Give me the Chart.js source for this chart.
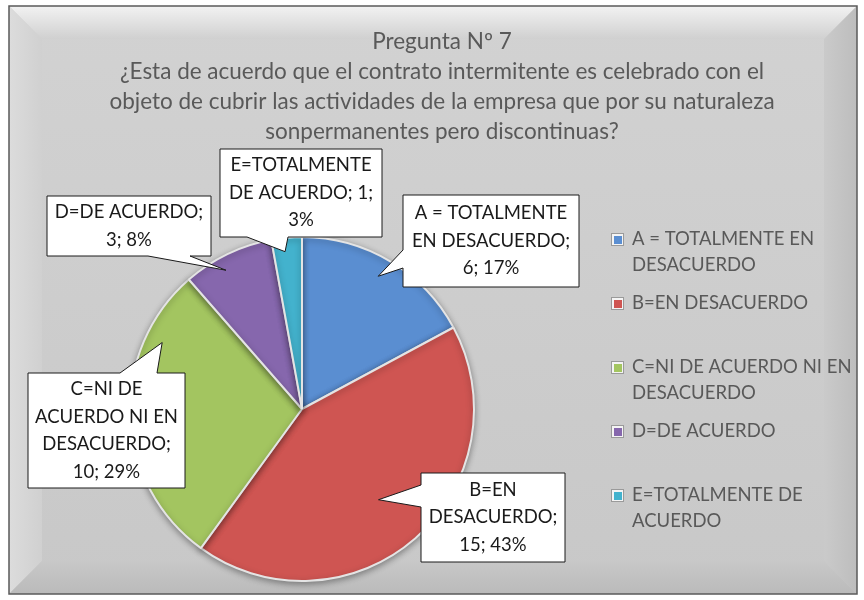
<!DOCTYPE html>
<html lang="es">
<head>
  <meta charset="UTF-8">
  <title>Pregunta Nº 7</title>
  <script src="https://cdn.jsdelivr.net/npm/chart.js"></script>
  <style>
    body { margin: 0; background: #ffffff; }
    #wrap { width: 864px; height: 600px; }
  </style>
</head>
<body>
  <div id="wrap">
    <canvas id="pieChart" width="864" height="600"></canvas>
  </div>

  <script>
    // data
    const categories = [
      'A = TOTALMENTE EN DESACUERDO',
      'B=EN DESACUERDO',
      'C=NI DE ACUERDO NI EN DESACUERDO',
      'D=DE ACUERDO',
      'E=TOTALMENTE DE ACUERDO'
    ];
    const counts = [6, 15, 10, 3, 1];
    const sliceColors = ['#5a8ed1', '#cf5552', '#a3c560', '#8667ad', '#43b2cd'];
    const titleLines = [
      'Pregunta Nº 7',
      '¿Esta de acuerdo que el contrato intermitente es celebrado con el',
      'objeto de cubrir las actividades de la empresa que por su naturaleza',
      'sonpermanentes pero discontinuas?'
    ];

    const FONT = 'Lato, "Open Sans", "Liberation Sans", sans-serif';

    // callout boxes: box rect, wrap width, pointer base on an edge, tip (angle offset deg, radius fraction)
    const callouts = [
      { box: [403, 195, 176, 92], wrap: 168, edge: 'left', base: [250, 268], off: -1, f: 0.89 },
      { box: [421, 473, 144, 89], wrap: 136, edge: 'left', base: [485, 507], off: 1, f: 0.69 },
      { box: [28, 373, 157, 115], wrap: 147, edge: 'top', base: [120, 157], off: 28, f: 0.9 },
      { box: [47, 196, 164, 60], wrap: 158, edge: 'bottom', base: [148, 190], off: -3, f: 0.92 },
      { box: [220, 149, 162, 88], wrap: 158, edge: 'bottom', base: [247, 288], off: -1, f: 0.92 }
    ];

    // whole-number percentages that add up to 100 (largest remainder)
    function percentages(vals) {
      const total = vals.reduce((a, b) => a + b, 0);
      const raw = vals.map(v => v / total * 100);
      const out = raw.map(Math.floor);
      const left = 100 - out.reduce((a, b) => a + b, 0);
      const order = raw
        .map((r, i) => [Number((r - Math.floor(r)).toFixed(6)), i])
        .sort((p, q) => q[0] - p[0] || p[1] - q[1]);
      for (let k = 0; k < left; k++) out[order[k][1]] += 1;
      return out;
    }

    function wrapText(ctx, text, maxW) {
      const words = text.split(' ');
      const lines = [];
      let cur = '';
      words.forEach(w => {
        const test = cur ? cur + ' ' + w : w;
        if (cur && ctx.measureText(test).width > maxW) {
          lines.push(cur);
          cur = w;
        } else {
          cur = test;
        }
      });
      if (cur) lines.push(cur);
      return lines;
    }

    // gray bevelled frame behind everything
    const framePlugin = {
      id: 'frame',
      beforeDraw(chart) {
        const ctx = chart.ctx;
        const x0 = 9, y0 = 6, x1 = 857, y1 = 594, b = 33;
        ctx.save();
        ctx.fillStyle = '#ffffff';
        ctx.fillRect(0, 0, chart.width, chart.height);

        let g = ctx.createLinearGradient(0, y0, 0, y1);
        g.addColorStop(0, '#d2d2d2');
        g.addColorStop(1, '#c8c8c8');
        ctx.fillStyle = g;
        ctx.fillRect(x0, y0, x1 - x0, y1 - y0);

        // top bevel
        g = ctx.createLinearGradient(0, y0, 0, y0 + b);
        g.addColorStop(0, '#f2f2f2');
        g.addColorStop(1, '#d0d0d0');
        ctx.fillStyle = g;
        ctx.beginPath();
        ctx.moveTo(x0, y0); ctx.lineTo(x1, y0); ctx.lineTo(x1 - b, y0 + b); ctx.lineTo(x0 + b, y0 + b);
        ctx.closePath(); ctx.fill();

        // left bevel
        g = ctx.createLinearGradient(x0, 0, x0 + b, 0);
        g.addColorStop(0, '#dcdcdc');
        g.addColorStop(1, '#d0d0d0');
        ctx.fillStyle = g;
        ctx.beginPath();
        ctx.moveTo(x0, y0); ctx.lineTo(x0 + b, y0 + b); ctx.lineTo(x0 + b, y1 - b); ctx.lineTo(x0, y1);
        ctx.closePath(); ctx.fill();

        // right bevel
        g = ctx.createLinearGradient(x1 - b, 0, x1, 0);
        g.addColorStop(0, '#cacaca');
        g.addColorStop(1, '#bdbdbd');
        ctx.fillStyle = g;
        ctx.beginPath();
        ctx.moveTo(x1, y0); ctx.lineTo(x1, y1); ctx.lineTo(x1 - b, y1 - b); ctx.lineTo(x1 - b, y0 + b);
        ctx.closePath(); ctx.fill();

        // bottom bevel
        g = ctx.createLinearGradient(0, y1 - b, 0, y1);
        g.addColorStop(0, '#c8c8c8');
        g.addColorStop(1, '#bababa');
        ctx.fillStyle = g;
        ctx.beginPath();
        ctx.moveTo(x0, y1); ctx.lineTo(x1, y1); ctx.lineTo(x1 - b, y1 - b); ctx.lineTo(x0 + b, y1 - b);
        ctx.closePath(); ctx.fill();

        ctx.strokeStyle = '#5a5a5a';
        ctx.lineWidth = 1.5;
        ctx.strokeRect(x0, y0, x1 - x0, y1 - y0);
        ctx.restore();
      },
      beforeDatasetsDraw(chart) {
        const ctx = chart.ctx;
        ctx.save();
        ctx.shadowColor = 'rgba(0,0,0,0.35)';
        ctx.shadowBlur = 6;
        ctx.shadowOffsetY = 2;
      },
      afterDatasetsDraw(chart) {
        chart.ctx.restore();
      }
    };

    // title, legend and callout labels
    const textPlugin = {
      id: 'texts',
      afterDraw(chart) {
        const ctx = chart.ctx;
        ctx.save();

        // title
        ctx.fillStyle = '#595959';
        ctx.font = '22.5px ' + FONT;
        ctx.textAlign = 'center';
        ctx.textBaseline = 'middle';
        titleLines.forEach((t, i) => ctx.fillText(t, 442, 42 + i * 30));

        // legend
        ctx.font = '18.5px ' + FONT;
        ctx.textAlign = 'left';
        chart.data.labels.forEach((lab, i) => {
          const y = 239 + i * 64;
          ctx.fillStyle = '#9a9a9a';
          ctx.fillRect(611, y - 6, 13, 13);
          ctx.fillStyle = '#f4f4f4';
          ctx.fillRect(612, y - 5, 11, 11);
          ctx.fillStyle = sliceColors[i];
          ctx.fillRect(614, y - 3, 8, 8);
          ctx.fillStyle = '#595959';
          wrapText(ctx, lab, 226).forEach((ln, j) => ctx.fillText(ln, 632, y + j * 26));
        });

        // callouts
        const meta = chart.getDatasetMeta(0);
        const pcts = percentages(counts);
        ctx.font = '18.5px ' + FONT;
        callouts.forEach((c, i) => {
          const arc = meta.data[i];
          const mid = (arc.startAngle + arc.endAngle) / 2 + c.off * Math.PI / 180;
          const tx = arc.x + Math.cos(mid) * arc.outerRadius * c.f;
          const ty = arc.y + Math.sin(mid) * arc.outerRadius * c.f;
          const [bx, by, bw, bh] = c.box;
          const [a, b] = c.base;

          ctx.beginPath();
          ctx.moveTo(bx, by);
          if (c.edge === 'top') { ctx.lineTo(a, by); ctx.lineTo(tx, ty); ctx.lineTo(b, by); }
          ctx.lineTo(bx + bw, by);
          ctx.lineTo(bx + bw, by + bh);
          if (c.edge === 'bottom') { ctx.lineTo(b, by + bh); ctx.lineTo(tx, ty); ctx.lineTo(a, by + bh); }
          ctx.lineTo(bx, by + bh);
          if (c.edge === 'left') { ctx.lineTo(bx, b); ctx.lineTo(tx, ty); ctx.lineTo(bx, a); }
          ctx.closePath();
          ctx.fillStyle = '#ffffff';
          ctx.fill();
          ctx.strokeStyle = '#1a1a1a';
          ctx.lineWidth = 1;
          ctx.stroke();

          const txt = chart.data.labels[i] + '; ' + counts[i] + '; ' + pcts[i] + '%';
          const lines = wrapText(ctx, txt, c.wrap);
          const lh = 27.5;
          const cy = by + bh / 2 - (lines.length - 1) * lh / 2;
          ctx.fillStyle = '#1a1a1a';
          ctx.textAlign = 'center';
          lines.forEach((ln, j) => ctx.fillText(ln, bx + bw / 2, cy + j * lh));
        });
        ctx.restore();
      }
    };

    new Chart(document.getElementById('pieChart'), {
      type: 'pie',
      data: {
        labels: categories,
        datasets: [{
          data: counts,
          backgroundColor: sliceColors,
          borderColor: '#e4e4e4',
          borderWidth: 2
        }]
      },
      options: {
        responsive: false,
        animation: false,
        layout: { padding: { left: 129, top: 236, right: 389, bottom: 18 } },
        plugins: {
          legend: { display: false },
          title: { display: false },
          tooltip: { enabled: false }
        }
      },
      plugins: [framePlugin, textPlugin]
    });
  </script>
</body>
</html>
